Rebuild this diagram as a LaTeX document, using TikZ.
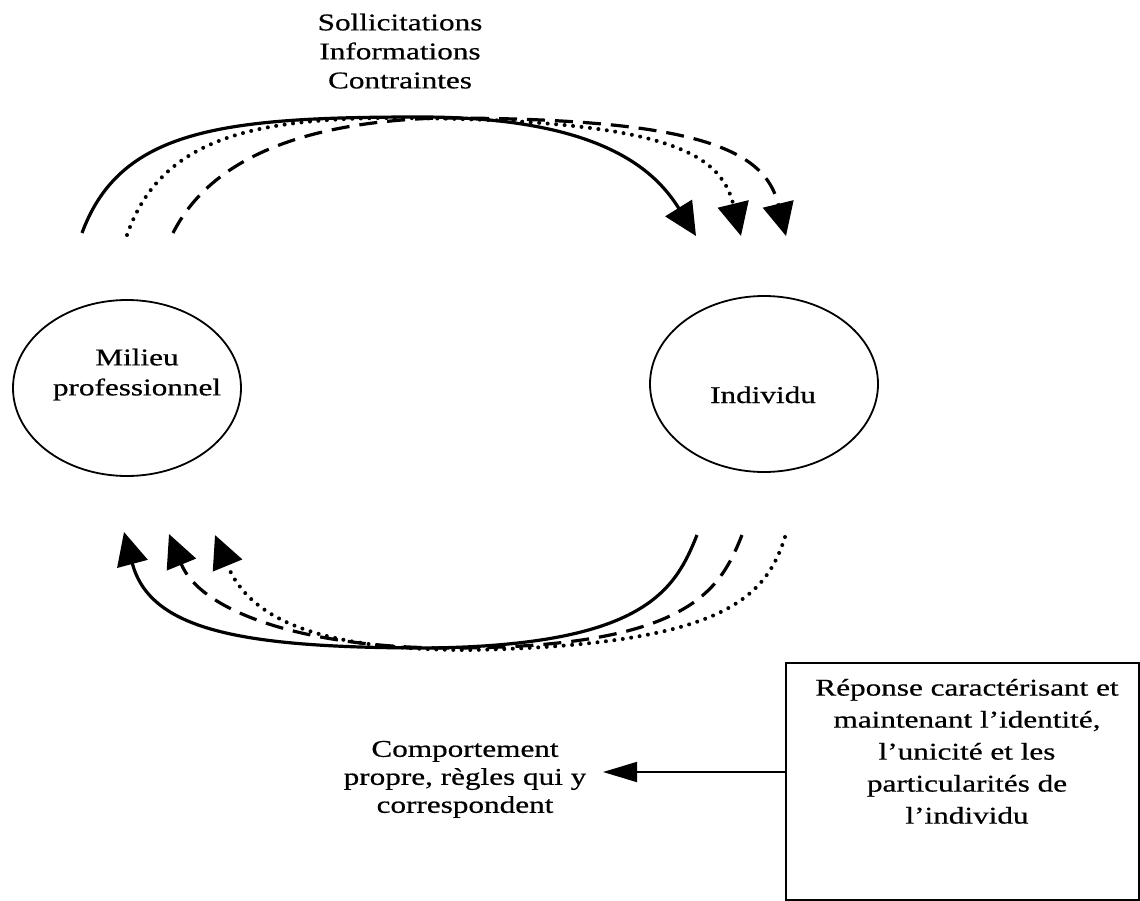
\documentclass[tikz,border=0pt]{standalone}
\usepackage{fontspec}
\setmainfont{Liberation Serif}[FakeStretch=1.3,FakeBold=0.6]
\usetikzlibrary{arrows.meta,shapes.geometric}
\begin{document}
\begin{tikzpicture}[x=1pt,y=-1pt,
  flow/.style={line width=3.2pt, -{Triangle[length=33pt,width=31pt]}},
  dotflow/.style={flow, line width=4pt, line cap=round, dash pattern=on 0pt off 8.5pt},
  dashflow/.style={flow, dash pattern=on 18pt off 10pt},
  circ/.style={draw, ellipse, line width=1.8pt, minimum width=228pt, minimum height=176pt, inner sep=0pt},
  lbl/.style={align=center, inner sep=0pt},
  frame/.style={draw, line width=1.8pt, minimum width=353pt, minimum height=237pt, inner sep=0pt},
]
\useasboundingbox (0,0) rectangle (1140,901);

% the two poles
\node[circ] (milieu) at (127,388) {};
\node[lbl, anchor=north, font=\fontsize{24}{30}\selectfont] (milieuTxt) at (137,348.5) {Milieu\\professionnel};
\node[circ] (indiv) at (764,384) {};
\node[lbl, anchor=base, font=\fontsize{24}{30}\selectfont] (indivTxt) at (763,403) {Individu};

% incoming flow label
\node[lbl, anchor=north, font=\fontsize{24}{29}\selectfont] (inputs) at (400,13.5) {Sollicitations\\Informations\\Contraintes};

% end points of the upper flows
\coordinate (uS1) at (82,233);  \coordinate (uE1) at (696,236);
\coordinate (uS2) at (127,235); \coordinate (uE2) at (741,236);
\coordinate (uS3) at (173,233); \coordinate (uE3) at (786,236);

\draw[flow] (uS1) .. controls (120,130) and (220,117) .. (420,117)
            .. controls (600,117) and (655,170) .. (uE1);
\draw[dotflow] (uS2) .. controls (160,140) and (250,120) .. (380,118)
            .. controls (660,118) and (720,150) .. (uE2);
\draw[dashflow] (uS3) .. controls (210,160) and (300,122) .. (440,118)
            .. controls (700,118) and (765,150) .. (uE3);

% end points of the lower flows
\coordinate (lS1) at (697,535); \coordinate (lE1) at (124,532);
\coordinate (lS2) at (742,535); \coordinate (lE2) at (169,534);
\coordinate (lS3) at (785,537); \coordinate (lE3) at (215,535);

\draw[flow] (lS1) .. controls (675,590) and (645,645) .. (430,648)
            .. controls (240,648) and (150,630) .. (lE1);
\draw[dashflow] (lS2) .. controls (720,590) and (690,648) .. (450,648)
            .. controls (300,648) and (200,610) .. (lE2);
\draw[dotflow] (lS3) .. controls (765,600) and (720,645) .. (470,650)
            .. controls (320,650) and (250,620) .. (lE3);

% response box and its consequence
\node[frame, anchor=north west] (box) at (785,662) {};
\node[lbl, anchor=north, font=\fontsize{24}{32}\selectfont] (boxTxt) at (967,678.7)
  {Réponse caractérisant et\\maintenant l’identité,\\l’unicité et les\\particularités de\\l’individu};
\node[lbl, anchor=north, font=\fontsize{24}{28}\selectfont] (behav) at (465,740.7)
  {Comportement\\propre, règles qui y\\correspondent};
\coordinate (cTip) at (603,772);
\draw[line width=1.8pt, -{Triangle[length=34pt,width=20pt]}] (cTip -| box.west) -- (cTip);
\end{tikzpicture}
\end{document}
